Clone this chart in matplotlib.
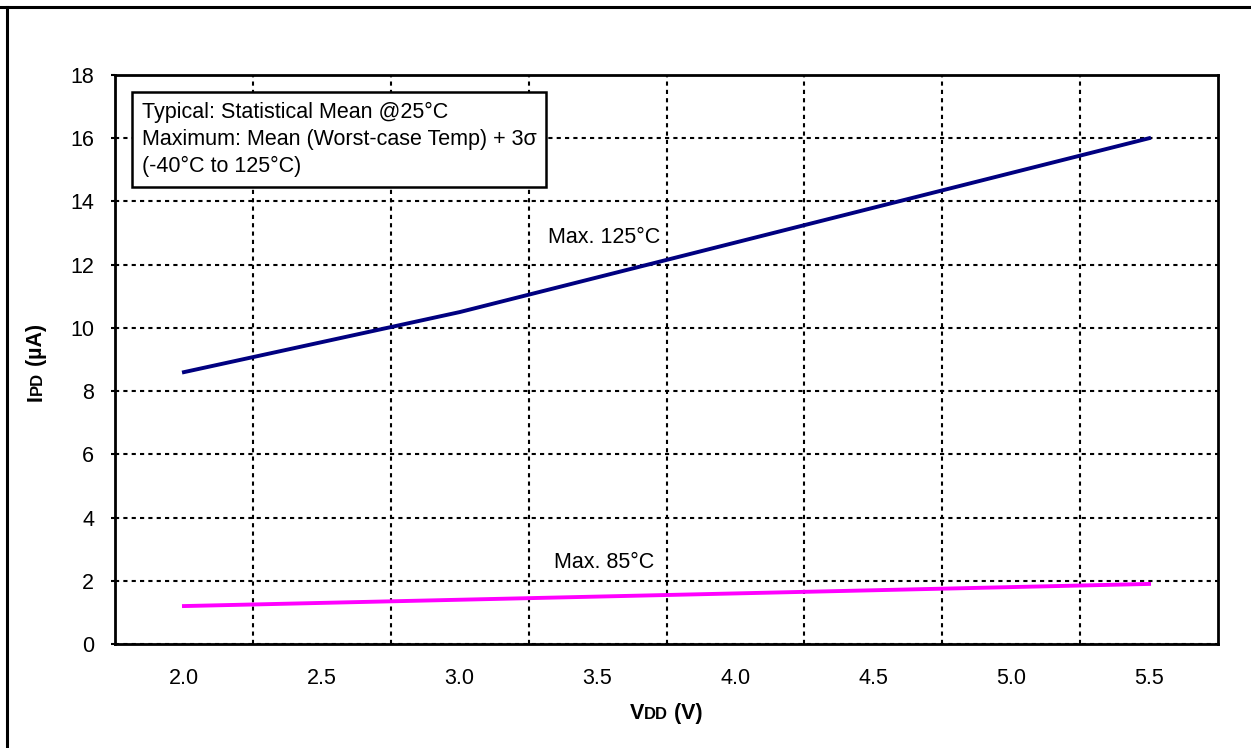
import numpy as np
import matplotlib
matplotlib.use("Agg")
import matplotlib.pyplot as plt
from matplotlib.lines import Line2D

plt.rcParams['font.family'] = ['Liberation Sans', 'DejaVu Sans']

# data
vdd = ["2.0", "2.5", "3.0", "3.5", "4.0", "4.5", "5.0", "5.5"]
ipd_125 = [8.6, 9.55, 10.5, 11.6, 12.7, 13.8, 14.9, 16.0]
ipd_85 = [1.2, 1.3, 1.4, 1.5, 1.6, 1.7, 1.8, 1.9]
yticks = list(range(0, 19, 2))
note = "Typical: Statistical Mean @25°C\nMaximum: Mean (Worst-case Temp) + 3σ\n(-40°C to 125°C)"

FS = 15.5
FS_SMALL = 12

W, H = 1251, 748
fig = plt.figure(figsize=(W / 100, H / 100), dpi=100)
ax = fig.add_axes([115 / W, 1 - 644 / H, (1218 - 115) / W, (644 - 75) / H])

pos = np.arange(len(vdd)) + 0.5
ax.plot(pos, ipd_125, color='#000080', lw=2.8, zorder=3)
ax.plot(pos, ipd_85, color='#FF00FF', lw=2.8, zorder=3)

ax.set_xlim(0, len(vdd))
ax.set_ylim(0, 18)
ax.set_xticks(pos)
ax.set_xticklabels(vdd)
ax.set_xticks(np.arange(1, len(vdd)), minor=True)
ax.set_yticks(yticks)
ax.grid(which='minor', axis='x', color='black', ls=(0, (2, 2)), lw=1.5)
ax.grid(which='major', axis='y', color='black', ls=(0, (2, 2)), lw=1.5)
ax.tick_params(axis='x', which='both', length=0, pad=17, labelsize=FS)
ax.tick_params(axis='y', length=3, direction='out', pad=12, labelsize=FS, width=1.5)
for s in ax.spines.values():
    s.set_linewidth(2)

ax.text(3.55, 12.85, "Max. 125°C", ha='center', va='center', fontsize=FS)
ax.text(3.55, 2.59, "Max. 85°C", ha='center', va='center', fontsize=FS)

ax.text((142 - 115) / 1103, (644 - 102) / 569, note, transform=ax.transAxes,
        ha='left', va='top', fontsize=FS, linespacing=1.38, zorder=5,
        bbox=dict(boxstyle='square,pad=0.45', fc='white', ec='black', lw=1.8))

# labels with small-caps style subscripts
renderer = fig.canvas.get_renderer()


def label(pieces, cx, cy, rot):
    widths = []
    for txt, fs in pieces:
        t = fig.text(0, 0, txt, fontsize=fs, fontweight='bold')
        widths.append(t.get_window_extent(renderer).width)
        t.remove()
    start = -sum(widths) / 2
    for (txt, fs), w in zip(pieces, widths):
        if rot == 0:
            x, y = cx + start, cy
        else:
            x, y = cx, cy + start
        fig.text(x / W, y / H, txt, fontsize=fs, fontweight='bold',
                 ha='left', va='baseline', rotation=rot, rotation_mode='anchor')
        start += w


label([("V", FS), ("DD", FS_SMALL), (" (V)", FS)], 666, H - 719, 0)
label([("I", FS), ("PD", FS_SMALL), (" (µA)", FS)], 42, H - 362, 90)

# outer frame remnants
fig.add_artist(Line2D([0, 1], [1 - 6.5 / H] * 2, color='black', lw=2.2))
fig.add_artist(Line2D([6.5 / W] * 2, [0, 1 - 6.5 / H], color='black', lw=2.2))

fig.savefig("out.png", dpi=100)
